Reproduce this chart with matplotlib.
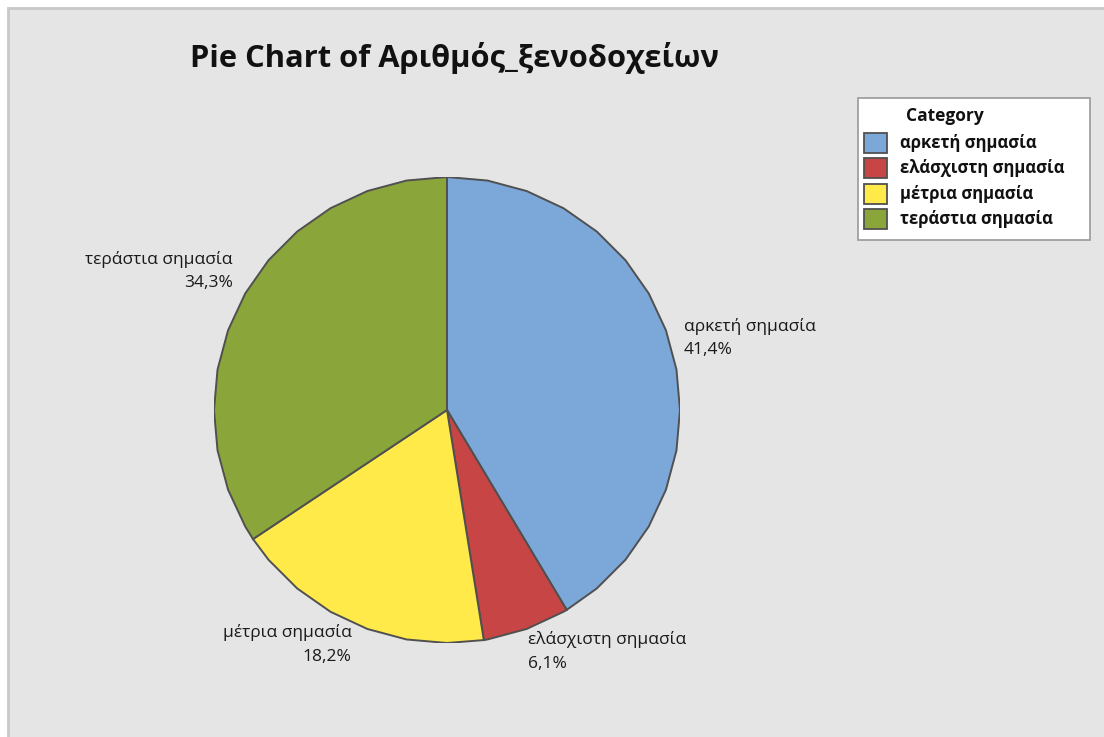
import numpy as np
import matplotlib
matplotlib.use("Agg")
import matplotlib.pyplot as plt
from matplotlib.patches import Polygon, Rectangle

# Hotel counts per importance category
categories = ["αρκετή σημασία", "ελάσχιστη σημασία", "μέτρια σημασία", "τεράστια σημασία"]
counts = [41, 6, 18, 34]
colors = ["#7BA7D9", "#C74545", "#FFEA4A", "#8AA63B"]
title = "Pie Chart of Αριθμός_ξενοδοχείων"
legend_title = "Category"

FONT = ["Open Sans", "DejaVu Sans"]
plt.rcParams["font.family"] = FONT

W, H = 1104, 737
fig = plt.figure(figsize=(W / 100, H / 100), dpi=100)
fig.patch.set_facecolor("white")


def fx(px):
    return px / W


def fy(py):
    return 1 - py / H


# grey chart panel with a light border on the top and left
fig.patches.append(Rectangle((fx(8), -0.05), 1.2, fy(8) + 0.05,
                             transform=fig.transFigure, facecolor="#E5E5E5",
                             edgecolor="#C8C8C8", linewidth=2, zorder=-5))

# pie axes: unit circle, centred at (447, 410) px, radius 233 px
cx, cy, R = 447, 410, 233
ax = fig.add_axes([fx(cx - R), fy(cy + R), 2 * R / W, 2 * R / H])
ax.set_xlim(-1, 1)
ax.set_ylim(-1, 1)
ax.set_aspect("equal")
ax.axis("off")

fracs = np.array(counts, dtype=float) / sum(counts)
bounds = 90 - 360 * np.concatenate([[0], np.cumsum(fracs)])
grid = np.arange(90, -271, -10)  # polygonal outline every 10 degrees

# small nudges that keep the slice labels clear of the outline
label_dx = [0.034, 0.0, 0.0, -0.02]
label_dy = [0.03, -0.05, -0.045, 0.10]
for i, (t1, t2) in enumerate(zip(bounds[:-1], bounds[1:])):
    angs = [t1] + [g for g in grid if t2 < g < t1] + [t2]
    pts = [(0, 0)] + [(np.cos(np.radians(a)), np.sin(np.radians(a))) for a in angs]
    ax.add_patch(Polygon(pts, closed=True, facecolor=colors[i],
                         edgecolor="#505050", linewidth=1.4, joinstyle="miter"))
    mid = np.radians((t1 + t2) / 2)
    x = 1.02 * np.cos(mid) + label_dx[i]
    y = 1.05 * np.sin(mid) + label_dy[i]
    ha = "left" if np.cos(mid) >= 0 else "right"
    pct = f"{100 * fracs[i]:.1f}%".replace(".", ",")
    ax.text(x, y, f"{categories[i]}\n{pct}", ha=ha, va="center",
            fontsize=12.5, linespacing=1.62, color="#1A1A1A", clip_on=False)

fig.text(fx(190), fy(67), title, ha="left", va="baseline",
         fontsize=22.2, fontweight="bold", color="#111111")

# legend box drawn in figure pixels
lx0, ly0, lx1, ly1 = 858, 98, 1090, 240
fig.patches.append(Rectangle((fx(lx0), fy(ly1)), (lx1 - lx0) / W, (ly1 - ly0) / H,
                             transform=fig.transFigure, facecolor="white",
                             edgecolor="#A0A0A0", linewidth=1.3, zorder=3))
fig.text(fx(906), fy(116), legend_title, ha="left", va="center",
         fontsize=12.5, fontweight="bold", color="#111111", zorder=4)
for i, (lab, col) in enumerate(zip(categories, colors)):
    ry = 142.5 + 25.5 * i
    fig.patches.append(Rectangle((fx(864), fy(ry + 10)), 23 / W, 20 / H,
                                 transform=fig.transFigure, facecolor=col,
                                 edgecolor="#505050", linewidth=1.3, zorder=4))
    fig.text(fx(900), fy(ry), lab, ha="left", va="center", fontsize=12,
             fontweight="bold", color="#111111", zorder=4)

fig.savefig("out.png", dpi=100)
